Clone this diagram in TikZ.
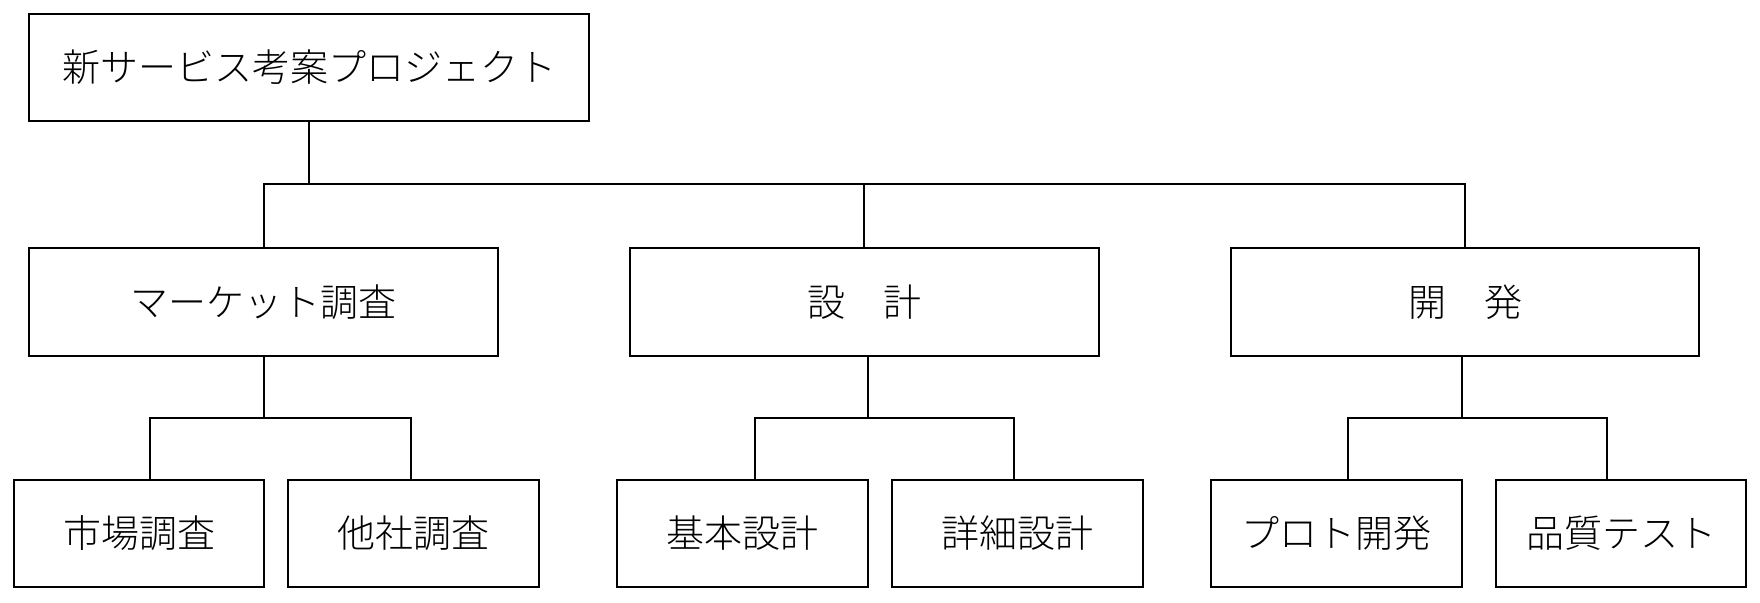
\documentclass[tikz,border=0pt]{standalone}
\usepackage{fontspec}
\IfFontExistsTF{Noto Sans CJK JP Light}
  {\setmainfont{Noto Sans CJK JP Light}}
  {\setmainfont{Noto Sans CJK JP}}
\begin{document}
\begin{tikzpicture}[x=0.5pt,y=-0.5pt,
  box/.style={draw=black, line width=1pt, rectangle, inner sep=0pt,
    minimum height=53.5pt, font=\fontsize{19pt}{19pt}\selectfont},
  conn/.style={draw=black, line width=1pt}]
\useasboundingbox (0,0) rectangle (1760,602);
% nodes
\node[box, minimum width=280pt] (top) at (309,67.5) {新サービス考案プロジェクト};
\node[box, minimum width=234.5pt, minimum height=54pt] (m) at (263.5,302) {マーケット調査};
\node[box, minimum width=234.5pt, minimum height=54pt] (d) at (864.5,302) {設　計};
\node[box, minimum width=234pt, minimum height=54pt] (k) at (1465,302) {開　発};
\node[box, minimum width=125pt] (m1) at (139,533.5) {市場調査};
\node[box, minimum width=125.5pt] (m2) at (413.5,533.5) {他社調査};
\node[box, minimum width=125.5pt] (d1) at (742.5,533.5) {基本設計};
\node[box, minimum width=125.5pt] (d2) at (1017.5,533.5) {詳細設計};
\node[box, minimum width=125.5pt] (k1) at (1336.5,533.5) {プロト開発};
\node[box, minimum width=125pt] (k2) at (1621,533.5) {品質テスト};
% connector end points on the box edges
\coordinate (b0) at (309,184);
\coordinate (mtop) at (264,248);
\coordinate (dtop) at (864,248);
\coordinate (ktop) at (1465,248);
\coordinate (mbot) at (264,356);
\coordinate (dbot) at (868,356);
\coordinate (kbot) at (1462,356);
\coordinate (mb) at (264,418);
\coordinate (db) at (868,418);
\coordinate (kb) at (1462,418);
\coordinate (m1t) at (150,480);
\coordinate (m2t) at (411,480);
\coordinate (d1t) at (755,480);
\coordinate (d2t) at (1014,480);
\coordinate (k1t) at (1348,480);
\coordinate (k2t) at (1607,480);
% level 1 -> level 2
\draw[conn] (top.south) -- (b0);
\draw[conn] (mtop) |- (b0) -| (ktop);
\draw[conn] (dtop) -- (dtop |- b0);
% level 2 -> level 3
\draw[conn] (mbot) -- (mb);
\draw[conn] (m1t) |- (mb) -| (m2t);
\draw[conn] (dbot) -- (db);
\draw[conn] (d1t) |- (db) -| (d2t);
\draw[conn] (kbot) -- (kb);
\draw[conn] (k1t) |- (kb) -| (k2t);
\end{tikzpicture}
\end{document}
